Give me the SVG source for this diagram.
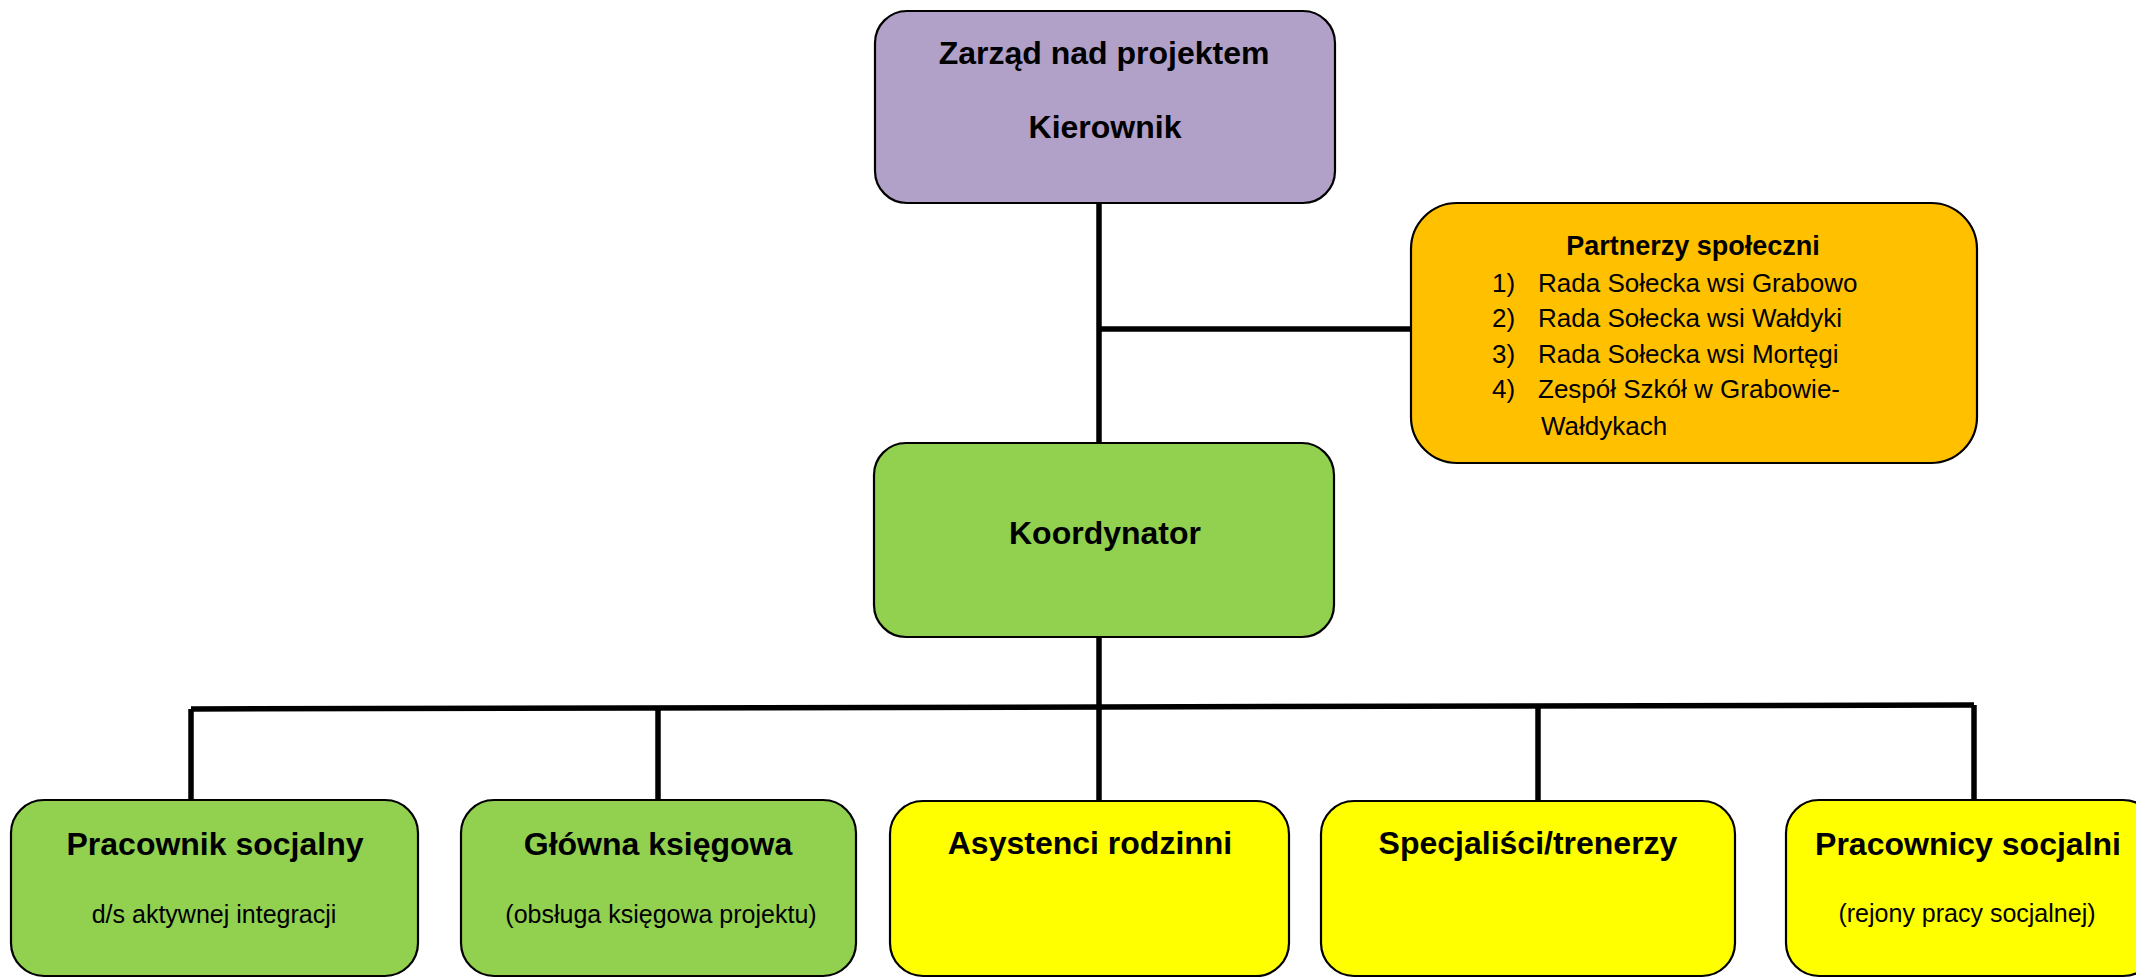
<svg xmlns="http://www.w3.org/2000/svg" width="2136" height="978" viewBox="0 0 2136 978">
<style>
.box{stroke:#000;stroke-width:2.2}
.purple{fill:#B1A0C7}
.orange{fill:#FFC000}
.green{fill:#92D050}
.yellow{fill:#FFFF00}
.conn{stroke:#000;stroke-width:5.5;fill:none;stroke-linecap:butt}
text{font-family:"Liberation Sans",Arial,sans-serif;fill:#000}
.b{font-weight:bold;font-size:32px;text-anchor:middle}
.h{font-weight:bold;font-size:27px;text-anchor:middle}
.s{font-size:25px;text-anchor:middle}
.l{font-size:26px}
</style>
<rect width="2136" height="978" fill="#fff"/>
<g id="connectors">
<path class="conn" d="M1099,203 V443"/>
<path class="conn" d="M1099,329 H1412"/>
<path class="conn" d="M1099,637 V801"/>
<path class="conn" d="M191,709 L1974,705"/>
<path class="conn" d="M191,709 V801"/>
<path class="conn" d="M658,708 V801"/>
<path class="conn" d="M1538,706 V801"/>
<path class="conn" d="M1974,705 V801"/>
</g>
<g id="zarzad">
<rect class="box purple" x="875" y="11" width="460" height="192" rx="32"/>
<text class="b" x="1104" y="64">Zarząd nad projektem</text>
<text class="b" x="1105" y="138">Kierownik</text>
</g>
<g id="partnerzy">
<rect class="box orange" x="1411" y="203" width="566" height="260" rx="46"/>
<text class="h" x="1693" y="255">Partnerzy społeczni</text>
<text class="l" x="1492" y="292">1)</text><text class="l" x="1538" y="292">Rada Sołecka wsi Grabowo</text>
<text class="l" x="1492" y="327">2)</text><text class="l" x="1538" y="327">Rada Sołecka wsi Wałdyki</text>
<text class="l" x="1492" y="363">3)</text><text class="l" x="1538" y="363">Rada Sołecka wsi Mortęgi</text>
<text class="l" x="1492" y="398">4)</text><text class="l" x="1538" y="398">Zespół Szkół w Grabowie-</text>
<text class="l" x="1541" y="435">Wałdykach</text>
</g>
<g id="koordynator">
<rect class="box green" x="874" y="443" width="460" height="194" rx="32"/>
<text class="b" x="1105" y="544">Koordynator</text>
</g>
<g id="pracownik-socjalny">
<rect class="box green" x="11" y="800" width="407" height="176" rx="33"/>
<text class="b" x="215" y="855">Pracownik socjalny</text>
<text class="s" x="214" y="923">d/s aktywnej integracji</text>
</g>
<g id="glowna-ksiegowa">
<rect class="box green" x="461" y="800" width="395" height="176" rx="33"/>
<text class="b" x="658" y="855">Główna księgowa</text>
<text class="s" x="661" y="923">(obsługa księgowa projektu)</text>
</g>
<g id="asystenci">
<rect class="box yellow" x="890" y="801" width="399" height="175" rx="33"/>
<text class="b" x="1090" y="854">Asystenci rodzinni</text>
</g>
<g id="specjalisci">
<rect class="box yellow" x="1321" y="801" width="414" height="175" rx="33"/>
<text class="b" x="1528" y="854">Specjaliści/trenerzy</text>
</g>
<g id="pracownicy-socjalni">
<rect class="box yellow" x="1786" y="800" width="370" height="176" rx="33"/>
<text class="b" x="1968" y="855">Pracownicy socjalni</text>
<text class="s" x="1967" y="922">(rejony pracy socjalnej)</text>
</g>
</svg>
